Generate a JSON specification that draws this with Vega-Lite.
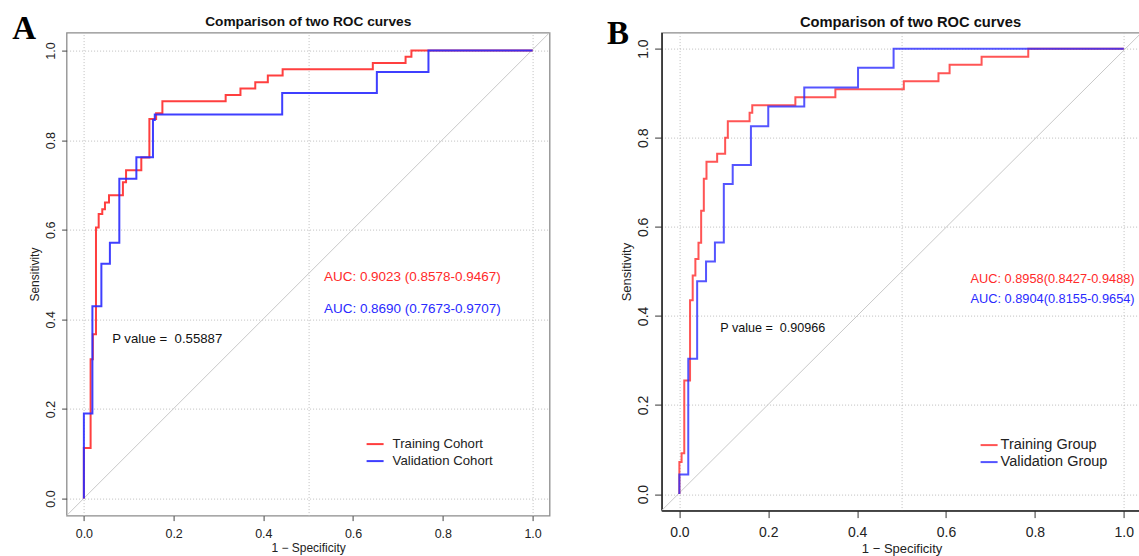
{
  "$schema": "https://vega.github.io/schema/vega-lite/v6.json",
  "padding": {"left": 11.6, "top": 11.6, "right": 0, "bottom": 0},
  "autosize": {"type": "pad"},
  "background": "white",
  "config": {"font": "Liberation Sans", "axis": {"labelFont": "Liberation Sans", "titleFont": "Liberation Sans"}},
  "datasets": {
    "rocA": [
      {"group": "Training Cohort", "i": 0, "fpr": 0, "sens": 0},
      {"group": "Training Cohort", "i": 1, "fpr": 0, "sens": 0.113},
      {"group": "Training Cohort", "i": 2, "fpr": 0.015, "sens": 0.113},
      {"group": "Training Cohort", "i": 3, "fpr": 0.015, "sens": 0.311},
      {"group": "Training Cohort", "i": 4, "fpr": 0.020, "sens": 0.311},
      {"group": "Training Cohort", "i": 5, "fpr": 0.020, "sens": 0.367},
      {"group": "Training Cohort", "i": 6, "fpr": 0.027, "sens": 0.367},
      {"group": "Training Cohort", "i": 7, "fpr": 0.027, "sens": 0.605},
      {"group": "Training Cohort", "i": 8, "fpr": 0.033, "sens": 0.605},
      {"group": "Training Cohort", "i": 9, "fpr": 0.033, "sens": 0.635},
      {"group": "Training Cohort", "i": 10, "fpr": 0.041, "sens": 0.635},
      {"group": "Training Cohort", "i": 11, "fpr": 0.041, "sens": 0.646},
      {"group": "Training Cohort", "i": 12, "fpr": 0.047, "sens": 0.646},
      {"group": "Training Cohort", "i": 13, "fpr": 0.047, "sens": 0.661},
      {"group": "Training Cohort", "i": 14, "fpr": 0.056, "sens": 0.661},
      {"group": "Training Cohort", "i": 15, "fpr": 0.056, "sens": 0.677},
      {"group": "Training Cohort", "i": 16, "fpr": 0.087, "sens": 0.677},
      {"group": "Training Cohort", "i": 17, "fpr": 0.087, "sens": 0.706},
      {"group": "Training Cohort", "i": 18, "fpr": 0.094, "sens": 0.706},
      {"group": "Training Cohort", "i": 19, "fpr": 0.094, "sens": 0.733},
      {"group": "Training Cohort", "i": 20, "fpr": 0.128, "sens": 0.733},
      {"group": "Training Cohort", "i": 21, "fpr": 0.128, "sens": 0.761},
      {"group": "Training Cohort", "i": 22, "fpr": 0.146, "sens": 0.761},
      {"group": "Training Cohort", "i": 23, "fpr": 0.146, "sens": 0.847},
      {"group": "Training Cohort", "i": 24, "fpr": 0.161, "sens": 0.847},
      {"group": "Training Cohort", "i": 25, "fpr": 0.161, "sens": 0.860},
      {"group": "Training Cohort", "i": 26, "fpr": 0.175, "sens": 0.860},
      {"group": "Training Cohort", "i": 27, "fpr": 0.175, "sens": 0.887},
      {"group": "Training Cohort", "i": 28, "fpr": 0.316, "sens": 0.887},
      {"group": "Training Cohort", "i": 29, "fpr": 0.316, "sens": 0.901},
      {"group": "Training Cohort", "i": 30, "fpr": 0.349, "sens": 0.901},
      {"group": "Training Cohort", "i": 31, "fpr": 0.349, "sens": 0.915},
      {"group": "Training Cohort", "i": 32, "fpr": 0.382, "sens": 0.915},
      {"group": "Training Cohort", "i": 33, "fpr": 0.382, "sens": 0.929},
      {"group": "Training Cohort", "i": 34, "fpr": 0.410, "sens": 0.929},
      {"group": "Training Cohort", "i": 35, "fpr": 0.410, "sens": 0.944},
      {"group": "Training Cohort", "i": 36, "fpr": 0.443, "sens": 0.944},
      {"group": "Training Cohort", "i": 37, "fpr": 0.443, "sens": 0.958},
      {"group": "Training Cohort", "i": 38, "fpr": 0.644, "sens": 0.958},
      {"group": "Training Cohort", "i": 39, "fpr": 0.644, "sens": 0.972},
      {"group": "Training Cohort", "i": 40, "fpr": 0.717, "sens": 0.972},
      {"group": "Training Cohort", "i": 41, "fpr": 0.717, "sens": 0.986},
      {"group": "Training Cohort", "i": 42, "fpr": 0.730, "sens": 0.986},
      {"group": "Training Cohort", "i": 43, "fpr": 0.730, "sens": 1.0},
      {"group": "Training Cohort", "i": 44, "fpr": 1.0, "sens": 1.0},
      {"group": "Validation Cohort", "i": 0, "fpr": 0, "sens": 0},
      {"group": "Validation Cohort", "i": 1, "fpr": 0, "sens": 0.190},
      {"group": "Validation Cohort", "i": 2, "fpr": 0.019, "sens": 0.190},
      {"group": "Validation Cohort", "i": 3, "fpr": 0.019, "sens": 0.429},
      {"group": "Validation Cohort", "i": 4, "fpr": 0.039, "sens": 0.429},
      {"group": "Validation Cohort", "i": 5, "fpr": 0.039, "sens": 0.524},
      {"group": "Validation Cohort", "i": 6, "fpr": 0.058, "sens": 0.524},
      {"group": "Validation Cohort", "i": 7, "fpr": 0.058, "sens": 0.571},
      {"group": "Validation Cohort", "i": 8, "fpr": 0.079, "sens": 0.571},
      {"group": "Validation Cohort", "i": 9, "fpr": 0.079, "sens": 0.714},
      {"group": "Validation Cohort", "i": 10, "fpr": 0.117, "sens": 0.714},
      {"group": "Validation Cohort", "i": 11, "fpr": 0.117, "sens": 0.762},
      {"group": "Validation Cohort", "i": 12, "fpr": 0.154, "sens": 0.762},
      {"group": "Validation Cohort", "i": 13, "fpr": 0.154, "sens": 0.845},
      {"group": "Validation Cohort", "i": 14, "fpr": 0.158, "sens": 0.845},
      {"group": "Validation Cohort", "i": 15, "fpr": 0.158, "sens": 0.857},
      {"group": "Validation Cohort", "i": 16, "fpr": 0.442, "sens": 0.857},
      {"group": "Validation Cohort", "i": 17, "fpr": 0.442, "sens": 0.905},
      {"group": "Validation Cohort", "i": 18, "fpr": 0.653, "sens": 0.905},
      {"group": "Validation Cohort", "i": 19, "fpr": 0.653, "sens": 0.952},
      {"group": "Validation Cohort", "i": 20, "fpr": 0.768, "sens": 0.952},
      {"group": "Validation Cohort", "i": 21, "fpr": 0.768, "sens": 1.0},
      {"group": "Validation Cohort", "i": 22, "fpr": 1.0, "sens": 1.0}
    ],
    "rocB": [
      {"group": "Training Group", "i": 0, "fpr": 0, "sens": 0},
      {"group": "Training Group", "i": 1, "fpr": 0, "sens": 0.072},
      {"group": "Training Group", "i": 2, "fpr": 0.005, "sens": 0.072},
      {"group": "Training Group", "i": 3, "fpr": 0.005, "sens": 0.092},
      {"group": "Training Group", "i": 4, "fpr": 0.011, "sens": 0.092},
      {"group": "Training Group", "i": 5, "fpr": 0.011, "sens": 0.255},
      {"group": "Training Group", "i": 6, "fpr": 0.024, "sens": 0.255},
      {"group": "Training Group", "i": 7, "fpr": 0.024, "sens": 0.435},
      {"group": "Training Group", "i": 8, "fpr": 0.030, "sens": 0.435},
      {"group": "Training Group", "i": 9, "fpr": 0.030, "sens": 0.491},
      {"group": "Training Group", "i": 10, "fpr": 0.036, "sens": 0.491},
      {"group": "Training Group", "i": 11, "fpr": 0.036, "sens": 0.528},
      {"group": "Training Group", "i": 12, "fpr": 0.043, "sens": 0.528},
      {"group": "Training Group", "i": 13, "fpr": 0.043, "sens": 0.564},
      {"group": "Training Group", "i": 14, "fpr": 0.049, "sens": 0.564},
      {"group": "Training Group", "i": 15, "fpr": 0.049, "sens": 0.636},
      {"group": "Training Group", "i": 16, "fpr": 0.055, "sens": 0.636},
      {"group": "Training Group", "i": 17, "fpr": 0.055, "sens": 0.708},
      {"group": "Training Group", "i": 18, "fpr": 0.061, "sens": 0.708},
      {"group": "Training Group", "i": 19, "fpr": 0.061, "sens": 0.746},
      {"group": "Training Group", "i": 20, "fpr": 0.085, "sens": 0.746},
      {"group": "Training Group", "i": 21, "fpr": 0.085, "sens": 0.764},
      {"group": "Training Group", "i": 22, "fpr": 0.103, "sens": 0.764},
      {"group": "Training Group", "i": 23, "fpr": 0.103, "sens": 0.800},
      {"group": "Training Group", "i": 24, "fpr": 0.109, "sens": 0.800},
      {"group": "Training Group", "i": 25, "fpr": 0.109, "sens": 0.837},
      {"group": "Training Group", "i": 26, "fpr": 0.158, "sens": 0.837},
      {"group": "Training Group", "i": 27, "fpr": 0.158, "sens": 0.856},
      {"group": "Training Group", "i": 28, "fpr": 0.164, "sens": 0.856},
      {"group": "Training Group", "i": 29, "fpr": 0.164, "sens": 0.873},
      {"group": "Training Group", "i": 30, "fpr": 0.261, "sens": 0.873},
      {"group": "Training Group", "i": 31, "fpr": 0.261, "sens": 0.891},
      {"group": "Training Group", "i": 32, "fpr": 0.351, "sens": 0.891},
      {"group": "Training Group", "i": 33, "fpr": 0.351, "sens": 0.909},
      {"group": "Training Group", "i": 34, "fpr": 0.505, "sens": 0.909},
      {"group": "Training Group", "i": 35, "fpr": 0.505, "sens": 0.927},
      {"group": "Training Group", "i": 36, "fpr": 0.583, "sens": 0.927},
      {"group": "Training Group", "i": 37, "fpr": 0.583, "sens": 0.945},
      {"group": "Training Group", "i": 38, "fpr": 0.608, "sens": 0.945},
      {"group": "Training Group", "i": 39, "fpr": 0.608, "sens": 0.964},
      {"group": "Training Group", "i": 40, "fpr": 0.680, "sens": 0.964},
      {"group": "Training Group", "i": 41, "fpr": 0.680, "sens": 0.982},
      {"group": "Training Group", "i": 42, "fpr": 0.785, "sens": 0.982},
      {"group": "Training Group", "i": 43, "fpr": 0.785, "sens": 1.0},
      {"group": "Training Group", "i": 44, "fpr": 1.0, "sens": 1.0},
      {"group": "Validation Group", "i": 0, "fpr": 0, "sens": 0},
      {"group": "Validation Group", "i": 1, "fpr": 0, "sens": 0.044},
      {"group": "Validation Group", "i": 2, "fpr": 0.020, "sens": 0.044},
      {"group": "Validation Group", "i": 3, "fpr": 0.020, "sens": 0.304},
      {"group": "Validation Group", "i": 4, "fpr": 0.040, "sens": 0.304},
      {"group": "Validation Group", "i": 5, "fpr": 0.040, "sens": 0.478},
      {"group": "Validation Group", "i": 6, "fpr": 0.060, "sens": 0.478},
      {"group": "Validation Group", "i": 7, "fpr": 0.060, "sens": 0.522},
      {"group": "Validation Group", "i": 8, "fpr": 0.080, "sens": 0.522},
      {"group": "Validation Group", "i": 9, "fpr": 0.080, "sens": 0.565},
      {"group": "Validation Group", "i": 10, "fpr": 0.100, "sens": 0.565},
      {"group": "Validation Group", "i": 11, "fpr": 0.100, "sens": 0.696},
      {"group": "Validation Group", "i": 12, "fpr": 0.120, "sens": 0.696},
      {"group": "Validation Group", "i": 13, "fpr": 0.120, "sens": 0.739},
      {"group": "Validation Group", "i": 14, "fpr": 0.161, "sens": 0.739},
      {"group": "Validation Group", "i": 15, "fpr": 0.161, "sens": 0.826},
      {"group": "Validation Group", "i": 16, "fpr": 0.200, "sens": 0.826},
      {"group": "Validation Group", "i": 17, "fpr": 0.200, "sens": 0.870},
      {"group": "Validation Group", "i": 18, "fpr": 0.281, "sens": 0.870},
      {"group": "Validation Group", "i": 19, "fpr": 0.281, "sens": 0.913},
      {"group": "Validation Group", "i": 20, "fpr": 0.402, "sens": 0.913},
      {"group": "Validation Group", "i": 21, "fpr": 0.402, "sens": 0.957},
      {"group": "Validation Group", "i": 22, "fpr": 0.482, "sens": 0.957},
      {"group": "Validation Group", "i": 23, "fpr": 0.482, "sens": 1.0},
      {"group": "Validation Group", "i": 24, "fpr": 1.0, "sens": 1.0}
    ]
  },
  "bounds": "flush",
  "spacing": 112,
  "resolve": {"scale": {"color": "independent"}, "legend": {"color": "independent"}},
  "hconcat": [
    {
      "width": 483,
      "height": 483,
      "view": {"stroke": "#8c8c8c", "strokeWidth": 1.3},
      "resolve": {"axis": {"x": "independent", "y": "independent"}},
      "layer": [
        {
          "data": {"values": [{}]},
          "mark": {"type": "rule", "color": "#c8c8c8", "strokeWidth": 1},
          "encoding": {
            "x": {"datum": -0.0385, "type": "quantitative", "scale": {"domain": [-0.0385, 1.038], "nice": false, "zero": false},
                  "axis": {"orient": "top", "values": [0, 0.5, 1], "grid": true, "gridColor": "#bdbdbd", "gridDash": [1, 2], "gridWidth": 1, "labels": false, "ticks": false, "domain": false, "title": null}},
            "y": {"datum": -0.038, "type": "quantitative", "scale": {"domain": [-0.038, 1.040], "nice": false, "zero": false}, "axis": null},
            "x2": {"datum": 1.038},
            "y2": {"datum": 1.040}
          }
        },
        {
          "data": {"name": "rocA"},
          "mark": {"type": "line", "strokeWidth": 2, "opacity": 0.9},
          "encoding": {
            "x": {"field": "fpr", "type": "quantitative", "scale": {"domain": [-0.0385, 1.038], "nice": false, "zero": false},
                  "axis": {"orient": "bottom", "values": [0, 0.2, 0.4, 0.6, 0.8, 1], "format": ".1f", "grid": false, "domain": false, "tickColor": "#444", "tickSize": 5, "labelFontSize": 12.5, "labelColor": "#222", "labelPadding": 7, "title": "1 − Specificity", "titleFontSize": 12, "titleFontWeight": "normal", "titleColor": "#222", "titlePadding": 2}},
            "y": {"field": "sens", "type": "quantitative", "scale": {"domain": [-0.038, 1.040], "nice": false, "zero": false},
                  "axis": {"orient": "left", "values": [0, 0.2, 0.4, 0.6, 0.8, 1], "format": ".1f", "grid": true, "gridColor": "#bdbdbd", "gridDash": [1, 2], "gridWidth": 1, "domain": false, "tickColor": "#444", "tickSize": 5, "labelAngle": -90, "labelAlign": "center", "labelBaseline": "bottom", "labelFontSize": 12.5, "labelColor": "#222", "labelPadding": 4, "title": "Sensitivity", "titleFontSize": 12, "titleFontWeight": "normal", "titleColor": "#222", "titlePadding": 3}},
            "color": {"field": "group", "type": "nominal", "scale": {"domain": ["Training Cohort", "Validation Cohort"], "range": ["#ff2a2a", "#2a2aff"]},
                      "legend": {"orient": "none", "legendX": 299, "legendY": 402, "title": null, "symbolType": "stroke", "symbolSize": 289, "symbolStrokeWidth": 2, "labelFont": "Liberation Sans", "labelFontSize": 13.2, "labelColor": "#222", "labelOffset": 8, "rowPadding": 1}},
            "order": {"field": "i", "type": "quantitative"}
          }
        },
        {
          "data": {"values": [{}]},
          "mark": {"type": "text", "text": "Comparison of two ROC curves", "font": "Liberation Sans", "fontWeight": "bold", "fontSize": 13.7, "align": "center", "baseline": "middle", "color": "#111"},
          "encoding": {
            "x": {"datum": 0.5, "type": "quantitative", "scale": {"domain": [-0.0385, 1.038], "nice": false, "zero": false}, "axis": null},
            "y": {"datum": 1.063, "type": "quantitative", "scale": {"domain": [-0.038, 1.040], "nice": false, "zero": false}, "axis": null}
          }
        },
        {
          "data": {"values": [{}]},
          "mark": {"type": "text", "text": "A", "font": "Liberation Serif", "fontWeight": "bold", "fontSize": 33, "align": "center", "baseline": "alphabetic", "color": "#000"},
          "encoding": {
            "x": {"datum": -0.133, "type": "quantitative", "scale": {"domain": [-0.0385, 1.038], "nice": false, "zero": false}, "axis": null},
            "y": {"datum": 1.026, "type": "quantitative", "scale": {"domain": [-0.038, 1.040], "nice": false, "zero": false}, "axis": null}
          }
        },
        {
          "data": {"values": [{}]},
          "mark": {"type": "text", "text": "AUC: 0.9023 (0.8578-0.9467)", "font": "Liberation Sans", "fontSize": 13.5, "align": "left", "baseline": "middle", "color": "#ff2a2a"},
          "encoding": {
            "x": {"datum": 0.535, "type": "quantitative", "scale": {"domain": [-0.0385, 1.038], "nice": false, "zero": false}, "axis": null},
            "y": {"datum": 0.494, "type": "quantitative", "scale": {"domain": [-0.038, 1.040], "nice": false, "zero": false}, "axis": null}
          }
        },
        {
          "data": {"values": [{}]},
          "mark": {"type": "text", "text": "AUC: 0.8690 (0.7673-0.9707)", "font": "Liberation Sans", "fontSize": 13.5, "align": "left", "baseline": "middle", "color": "#2a2aff"},
          "encoding": {
            "x": {"datum": 0.535, "type": "quantitative", "scale": {"domain": [-0.0385, 1.038], "nice": false, "zero": false}, "axis": null},
            "y": {"datum": 0.423, "type": "quantitative", "scale": {"domain": [-0.038, 1.040], "nice": false, "zero": false}, "axis": null}
          }
        },
        {
          "data": {"values": [{}]},
          "mark": {"type": "text", "text": "P value = \u00a00.55887", "font": "Liberation Sans", "fontSize": 13.2, "align": "left", "baseline": "middle", "color": "#111"},
          "encoding": {
            "x": {"datum": 0.063, "type": "quantitative", "scale": {"domain": [-0.0385, 1.038], "nice": false, "zero": false}, "axis": null},
            "y": {"datum": 0.356, "type": "quantitative", "scale": {"domain": [-0.038, 1.040], "nice": false, "zero": false}, "axis": null}
          }
        }
      ]
    },
    {
      "width": 480,
      "height": 478,
      "view": {"stroke": "#8c8c8c", "strokeWidth": 1.3},
      "resolve": {"axis": {"x": "independent", "y": "independent"}},
      "layer": [
        {
          "data": {"values": [{}]},
          "mark": {"type": "rule", "color": "#c8c8c8", "strokeWidth": 1},
          "encoding": {
            "x": {"datum": -0.04, "type": "quantitative", "scale": {"domain": [-0.04, 1.04], "nice": false, "zero": false},
                  "axis": {"orient": "top", "values": [0, 0.5, 1], "grid": true, "gridColor": "#bdbdbd", "gridDash": [1, 2], "gridWidth": 1, "labels": false, "ticks": false, "domain": false, "title": null}},
            "y": {"datum": -0.037, "type": "quantitative", "scale": {"domain": [-0.037, 1.036], "nice": false, "zero": false}, "axis": null},
            "x2": {"datum": 1.04},
            "y2": {"datum": 1.036}
          }
        },
        {
          "data": {"name": "rocB"},
          "mark": {"type": "line", "strokeWidth": 2, "opacity": 0.8},
          "encoding": {
            "x": {"field": "fpr", "type": "quantitative", "scale": {"domain": [-0.04, 1.04], "nice": false, "zero": false},
                  "axis": {"orient": "bottom", "values": [0, 0.2, 0.4, 0.6, 0.8, 1], "format": ".1f", "grid": false, "domain": true, "domainColor": "#222", "domainWidth": 1.5, "tickColor": "#333", "tickSize": 7, "labelFontSize": 14, "labelColor": "#222", "labelPadding": 8, "title": "1 − Specificity", "titleFontSize": 13, "titleFontWeight": "normal", "titleColor": "#222", "titlePadding": 3}},
            "y": {"field": "sens", "type": "quantitative", "scale": {"domain": [-0.037, 1.036], "nice": false, "zero": false},
                  "axis": {"orient": "left", "values": [0, 0.2, 0.4, 0.6, 0.8, 1], "format": ".1f", "grid": true, "gridColor": "#bdbdbd", "gridDash": [1, 2], "gridWidth": 1, "domain": true, "domainColor": "#222", "domainWidth": 1.5, "tickColor": "#333", "tickSize": 7, "labelAngle": -90, "labelAlign": "center", "labelBaseline": "bottom", "labelFontSize": 14, "labelColor": "#222", "labelPadding": 4, "title": "Sensitivity", "titleFontSize": 13, "titleFontWeight": "normal", "titleColor": "#222", "titlePadding": 3}},
            "color": {"field": "group", "type": "nominal", "scale": {"domain": ["Training Group", "Validation Group"], "range": ["#ff2a2a", "#2a2aff"]},
                      "legend": {"orient": "none", "legendX": 318, "legendY": 403, "title": null, "symbolType": "stroke", "symbolSize": 289, "symbolStrokeWidth": 2, "labelFont": "Liberation Sans", "labelFontSize": 14.5, "labelColor": "#222", "labelOffset": 2, "rowPadding": 1}},
            "order": {"field": "i", "type": "quantitative"}
          }
        },
        {
          "data": {"values": [{}]},
          "mark": {"type": "text", "text": "Comparison of two ROC curves", "font": "Liberation Sans", "fontWeight": "bold", "fontSize": 14.7, "align": "center", "baseline": "middle", "color": "#111"},
          "encoding": {
            "x": {"datum": 0.52, "type": "quantitative", "scale": {"domain": [-0.04, 1.04], "nice": false, "zero": false}, "axis": null},
            "y": {"datum": 1.058, "type": "quantitative", "scale": {"domain": [-0.037, 1.036], "nice": false, "zero": false}, "axis": null}
          }
        },
        {
          "data": {"values": [{}]},
          "mark": {"type": "text", "text": "B", "font": "Liberation Serif", "fontWeight": "bold", "fontSize": 33, "align": "center", "baseline": "alphabetic", "color": "#000"},
          "encoding": {
            "x": {"datum": -0.138, "type": "quantitative", "scale": {"domain": [-0.04, 1.04], "nice": false, "zero": false}, "axis": null},
            "y": {"datum": 1.01, "type": "quantitative", "scale": {"domain": [-0.037, 1.036], "nice": false, "zero": false}, "axis": null}
          }
        },
        {
          "data": {"values": [{}]},
          "mark": {"type": "text", "text": "AUC: 0.8958(0.8427-0.9488)", "font": "Liberation Sans", "fontSize": 12.8, "align": "left", "baseline": "middle", "color": "#ff2a2a"},
          "encoding": {
            "x": {"datum": 0.655, "type": "quantitative", "scale": {"domain": [-0.04, 1.04], "nice": false, "zero": false}, "axis": null},
            "y": {"datum": 0.4835, "type": "quantitative", "scale": {"domain": [-0.037, 1.036], "nice": false, "zero": false}, "axis": null}
          }
        },
        {
          "data": {"values": [{}]},
          "mark": {"type": "text", "text": "AUC: 0.8904(0.8155-0.9654)", "font": "Liberation Sans", "fontSize": 12.8, "align": "left", "baseline": "middle", "color": "#2a2aff"},
          "encoding": {
            "x": {"datum": 0.655, "type": "quantitative", "scale": {"domain": [-0.04, 1.04], "nice": false, "zero": false}, "axis": null},
            "y": {"datum": 0.4386, "type": "quantitative", "scale": {"domain": [-0.037, 1.036], "nice": false, "zero": false}, "axis": null}
          }
        },
        {
          "data": {"values": [{}]},
          "mark": {"type": "text", "text": "P value = \u00a00.90966", "font": "Liberation Sans", "fontSize": 12.6, "align": "left", "baseline": "middle", "color": "#111"},
          "encoding": {
            "x": {"datum": 0.092, "type": "quantitative", "scale": {"domain": [-0.04, 1.04], "nice": false, "zero": false}, "axis": null},
            "y": {"datum": 0.373, "type": "quantitative", "scale": {"domain": [-0.037, 1.036], "nice": false, "zero": false}, "axis": null}
          }
        }
      ]
    }
  ]
}
